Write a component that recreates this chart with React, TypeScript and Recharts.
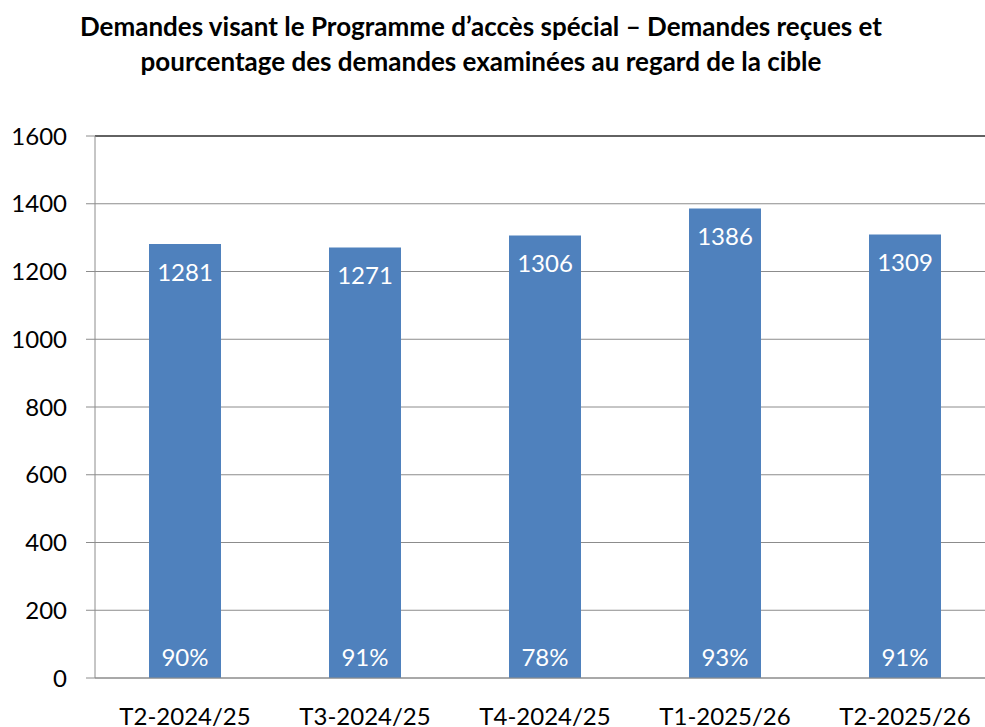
import React from "react";
import {
  BarChart,
  Bar,
  XAxis,
  YAxis,
  CartesianGrid,
  ReferenceLine,
  LabelList,
} from "recharts";

const categories = [
  "T2-2024/25",
  "T3-2024/25",
  "T4-2024/25",
  "T1-2025/26",
  "T2-2025/26",
];
const received = [1281, 1271, 1306, 1386, 1309];
const reviewedPct = ["90%", "91%", "78%", "93%", "91%"];
const yTicks = [0, 200, 400, 600, 800, 1000, 1200, 1400, 1600];
const edgeTicks = [0, 1, 2, 3, 4, 5];

const data = categories.map((name, i) => ({
  name,
  value: received[i],
  pct: reviewedPct[i],
}));

const FONT = "Lato, 'Open Sans', sans-serif";
const BAR = "#4F81BD";

const renderPct = (props: any) => {
  const { x, y, width, height, index } = props;
  return (
    <text
      x={x + width / 2}
      y={y + height - 22}
      fill="#fff"
      textAnchor="middle"
      dominantBaseline="central"
      style={{ fontSize: 24, fontFamily: FONT }}
    >
      {reviewedPct[index]}
    </text>
  );
};

const renderValue = (props: any) => {
  const { x, y, width, value } = props;
  return (
    <text
      x={x + width / 2}
      y={y + 27}
      fill="#fff"
      textAnchor="middle"
      dominantBaseline="central"
      style={{ fontSize: 24, fontFamily: FONT }}
    >
      {value}
    </text>
  );
};

export default function App() {
  return (
    <div
      style={{
        position: "fixed",
        left: 0,
        top: 0,
        width: 985,
        height: 727,
        overflow: "hidden",
        background: "#fff",
        fontFamily: FONT,
      }}
    >
      <div
        style={{
          position: "absolute",
          left: 0,
          top: 9,
          width: 962,
          textAlign: "center",
          fontWeight: 700,
          fontSize: 26,
          lineHeight: "35px",
          color: "#000",
        }}
      >
        Demandes visant le Programme d’accès spécial – Demandes reçues et
        <br />
        pourcentage des demandes examinées au regard de la cible
      </div>
      <BarChart
        width={1000}
        height={727}
        data={data}
        margin={{ top: 136, right: 5, bottom: 0, left: 0 }}
        barCategoryGap="30%"
      >
        <CartesianGrid
          vertical={false}
          stroke="#8c8c8c"
          strokeWidth={1}
        />
        <XAxis
          xAxisId="edges"
          type="number"
          domain={[0, 5]}
          ticks={edgeTicks}
          tick={false}
          tickSize={10}
          tickLine={{ stroke: "#7f7f7f" }}
          axisLine={false}
          height={0}
        />
        <XAxis
          xAxisId="cat"
          dataKey="name"
          height={49}
          tickLine={false}
          axisLine={{ stroke: "#8c8c8c" }}
          tickMargin={24}
          tick={{ fill: "#000", fontSize: 24, fontFamily: FONT }}
          interval={0}
        />
        <YAxis
          width={95}
          domain={[0, 1600]}
          ticks={yTicks}
          tickSize={9}
          tickMargin={19}
          axisLine={{ stroke: "#8c8c8c" }}
          tickLine={{ stroke: "#8c8c8c" }}
          tick={{ fill: "#000", fontSize: 24, fontFamily: FONT }}
        />
        <ReferenceLine
          xAxisId="cat"
          y={1600}
          stroke="#404040"
          strokeWidth={1.5}
        />
        <Bar
          xAxisId="cat"
          dataKey="value"
          fill={BAR}
          isAnimationActive={false}
        >
          <LabelList dataKey="value" content={renderValue} />
          <LabelList dataKey="pct" content={renderPct} />
        </Bar>
      </BarChart>
    </div>
  );
}
